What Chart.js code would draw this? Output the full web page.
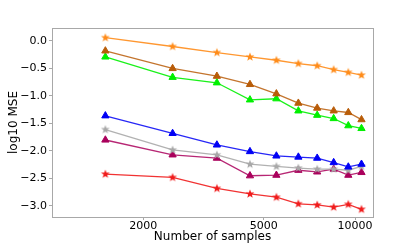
<!DOCTYPE html>
<html><head><meta charset="utf-8">
<script src="https://cdn.jsdelivr.net/npm/chart.js@4/dist/chart.umd.min.js"></script>
<style>html,body{margin:0;padding:0;background:#fff}#wrap{width:415px;height:244px}</style>
</head><body><div id="wrap"><canvas id="c" width="415" height="244"></canvas></div>
<script>
const samples = [1500,2500,3500,4500,5500,6500,7500,8500,9500,10500];
const orangeStar = [0.06,-0.10,-0.21,-0.29,-0.35,-0.41,-0.45,-0.52,-0.57,-0.62];
const brownTri  = [-0.18,-0.50,-0.64,-0.79,-0.96,-1.13,-1.22,-1.27,-1.30,-1.43];
const greenTri  = [-0.29,-0.66,-0.76,-1.07,-1.05,-1.27,-1.35,-1.41,-1.54,-1.59];
const blueTri   = [-1.36,-1.68,-1.89,-2.01,-2.09,-2.11,-2.13,-2.21,-2.29,-2.24];
const grayStar  = [-1.61,-1.98,-2.07,-2.24,-2.28,-2.31,-2.33,-2.33,-2.35,-2.28];
const maroonTri = [-1.80,-2.07,-2.13,-2.45,-2.44,-2.35,-2.38,-2.33,-2.44,-2.39];
const redStar   = [-2.42,-2.48,-2.68,-2.78,-2.84,-2.96,-2.98,-3.02,-2.97,-3.06];
const xTicks = [2000,5000,10000];
const yTicks = [0,-0.5,-1,-1.5,-2,-2.5,-3];

function starImg(color, r){
  const s = Math.ceil(r*2+2);
  const c = document.createElement('canvas'); c.width=s; c.height=s;
  const g = c.getContext('2d');
  const cx=s/2, cy=s/2, ri=r*0.42;
  g.beginPath();
  for(let i=0;i<10;i++){
    const a = -Math.PI/2 + i*Math.PI/5;
    const rr = i%2===0 ? r : ri;
    const x = cx + rr*Math.cos(a), y = cy + rr*Math.sin(a);
    i===0?g.moveTo(x,y):g.lineTo(x,y);
  }
  g.closePath(); g.fillStyle=color; g.fill();
  return c;
}
function ds(vals, color, lineColor, marker){
  return {
    data: samples.map((x,i)=>({x:x,y:vals[i]})),
    borderColor: lineColor, backgroundColor: color,
    borderWidth: 1.3,
    pointStyle: marker==='star' ? starImg(color,4.6) : 'triangle',
    pointRadius: 4.2, pointBorderWidth: 1, pointBorderColor: color,
    tension: 0, fill:false
  };
}
const frame = {
  id:'frame',
  afterDraw(chart){
    const a = chart.chartArea, g = chart.ctx;
    g.save(); g.strokeStyle='#a8a8a8'; g.lineWidth=1;
    g.strokeRect(Math.round(a.left)+0.5, Math.round(a.top)+0.5, Math.round(a.right-a.left), Math.round(a.bottom-a.top));
    g.restore();
  }
};
const fmt = v => (v<0?'\u2212':'') + Math.abs(v).toFixed(1);
new Chart(document.getElementById('c'), {
  type:'line',
  data:{datasets:[
    ds(orangeStar,'#ff8c1a','rgba(255,140,26,0.9)','star'),
    ds(brownTri,'#b85c08','rgba(184,92,8,0.85)','tri'),
    ds(greenTri,'#00f000','rgba(0,240,0,0.9)','tri'),
    ds(blueTri,'#0000f5','rgba(0,0,245,0.85)','tri'),
    ds(grayStar,'#a8a8a8','rgba(168,168,168,0.9)','star'),
    ds(maroonTri,'#aa005c','rgba(170,0,92,0.85)','tri'),
    ds(redStar,'#f01c1c','rgba(240,28,28,0.9)','star')
  ]},
  options:{
    responsive:false, animation:false, devicePixelRatio:1,
    layout:{padding:{left:7,right:42,top:28,bottom:0}},
    plugins:{legend:{display:false},tooltip:{enabled:false}},
    scales:{
      x:{type:'logarithmic', min:1000, max:11460,
        afterBuildTicks(s){ s.ticks = xTicks.map(v=>({value:v})); },
        afterFit(s){ s.height = 27; },
        ticks:{color:'#000', font:{family:'DejaVu Sans', size:11}, padding:0, maxRotation:0,
          callback:(v)=>String(v)},
        grid:{display:true, drawOnChartArea:false, drawTicks:true, tickLength:3, color:'#a8a8a8'},
        border:{display:false},
        title:{display:true, text:'Number of samples', color:'#000', font:{family:'DejaVu Sans', size:12}, padding:{top:0,bottom:0}}
      },
      y:{type:'linear', min:-3.2, max:0.236,
        afterBuildTicks(s){ s.ticks = yTicks.map(v=>({value:v})); },
        afterFit(s){ s.width = 45; },
        ticks:{color:'#000', font:{family:'DejaVu Sans', size:11}, padding:2, callback:(v)=>fmt(v)},
        grid:{display:true, drawOnChartArea:false, drawTicks:true, tickLength:3, color:'#a8a8a8'},
        border:{display:false},
        title:{display:true, text:'log10 MSE', color:'#000', font:{family:'DejaVu Sans', size:12}, padding:{top:0,bottom:0}}
      }
    }
  },
  plugins:[frame]
});
</script></body></html>
